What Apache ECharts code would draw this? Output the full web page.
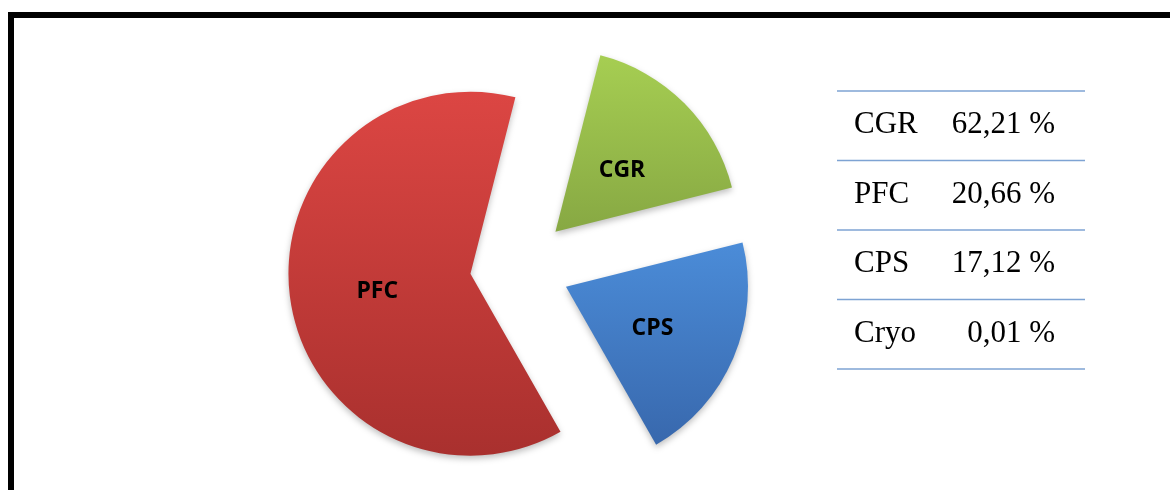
<!DOCTYPE html>
<html>
<head>
<meta charset="utf-8">
<style>
  html, body { margin: 0; padding: 0; background: #fff; }
  #main { width: 1170px; height: 490px; }
</style>
<script src="https://cdn.jsdelivr.net/npm/echarts@6/dist/echarts.min.js"></script>
</head>
<body>
<div id="main"></div>
<script>
// pie slices, clockwise from the top
var sliceNames = ['CGR', 'CPS', 'Cryo', 'PFC'];
var sliceValues = [17.12, 20.66, 0.01, 62.21];
var sliceTop = ['#a6ce52', '#4b8cd8', '#7f6a9f', '#dc4643'];
var sliceBottom = ['#87a843', '#3868ad', '#5f4f7a', '#a9302e'];

// table on the right
var tableNames = ['CGR', 'PFC', 'CPS', 'Cryo'];
var tableValues = ['62,21 %', '20,66 %', '17,12 %', '0,01 %'];

var chart = echarts.init(document.getElementById('main'));

var pieData = [];
for (var i = 0; i < sliceNames.length; i++) {
    var tiny = sliceNames[i] === 'Cryo';
    pieData.push({
        name: sliceNames[i],
        value: sliceValues[i],
        selected: true,
        label: { show: !tiny },
        itemStyle: {
            opacity: tiny ? 0 : 1,
            color: new echarts.graphic.LinearGradient(0, 0, 0, 1, [
                { offset: 0, color: sliceTop[i] },
                { offset: 1, color: sliceBottom[i] }
            ])
        }
    });
}

var rowTop = 91, rowH = 69.5;
var graphics = [{
    type: 'rect',
    shape: { x: 11, y: 15, width: 1300, height: 600 },
    style: { fill: null, stroke: '#000', lineWidth: 6 },
    silent: true
}];
for (var r = 0; r <= tableNames.length; r++) {
    graphics.push({
        type: 'line',
        shape: { x1: 837, y1: rowTop + r * rowH, x2: 1085, y2: rowTop + r * rowH },
        style: { stroke: '#7ea3d3', lineWidth: 1.5 },
        silent: true
    });
}
for (var k = 0; k < tableNames.length; k++) {
    var cy = rowTop + k * rowH + 34;
    graphics.push({
        type: 'text', x: 854, y: cy, silent: true,
        style: { text: tableNames[k], fill: '#000', font: '31px "Liberation Serif"', align: 'left', verticalAlign: 'middle' }
    });
    graphics.push({
        type: 'text', x: 1055, y: cy, silent: true,
        style: { text: tableValues[k], fill: '#000', font: '31px "Liberation Serif"', align: 'right', verticalAlign: 'middle' }
    });
}

chart.setOption({
    animation: false,
    backgroundColor: '#fff',
    graphic: graphics,
    series: [{
        type: 'pie',
        center: [520, 267],
        radius: [0, 182],
        startAngle: 75.7,
        clockwise: true,
        selectedMode: 'multiple',
        selectedOffset: 50,
        avoidLabelOverlap: false,
        silent: true,
        label: {
            position: 'inside',
            formatter: '{t|{b}}',
            rich: {
                t: {
                    color: '#000',
                    fontFamily: 'Open Sans',
                    fontWeight: 'bold',
                    fontSize: 23,
                    padding: [10, 0, 0, 0]
                }
            }
        },
        labelLine: { show: false },
        itemStyle: {
            shadowBlur: 6,
            shadowOffsetY: 3,
            shadowColor: 'rgba(0,0,0,0.25)'
        },
        data: pieData
    }]
});
</script>
</body>
</html>
